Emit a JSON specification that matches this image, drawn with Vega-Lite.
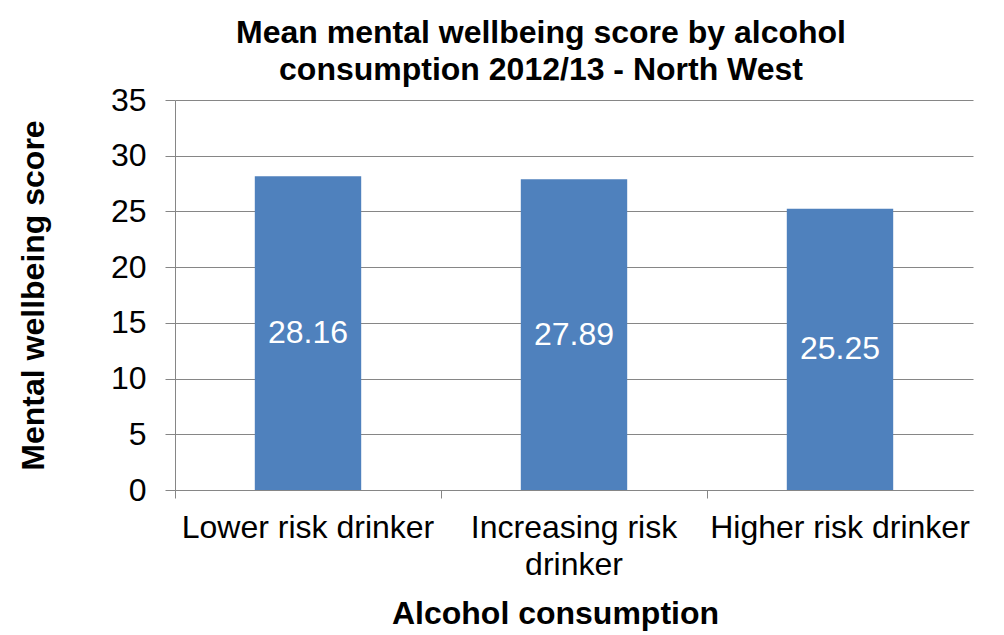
{
  "$schema": "https://vega.github.io/schema/vega-lite/v6.json",
  "width": 798,
  "height": 390,
  "autosize": "none",
  "padding": {"left": 175, "top": 100, "right": 31, "bottom": 145},
  "background": "white",
  "title": {
    "text": ["Mean mental wellbeing score by alcohol", "consumption 2012/13 - North West"],
    "font": "Liberation Sans",
    "fontSize": 32,
    "fontWeight": "bold",
    "color": "black",
    "anchor": "middle",
    "frame": "group",
    "dx": -33,
    "offset": -3,
    "lineHeight": 37
  },
  "data": {
    "values": [
      {"category": "Lower risk drinker", "score": 28.16},
      {"category": "Increasing risk drinker", "score": 27.89},
      {"category": "Higher risk drinker", "score": 25.25}
    ]
  },
  "encoding": {
    "x": {
      "field": "category",
      "type": "nominal",
      "sort": null,
      "scale": {"paddingInner": 0, "paddingOuter": 0},
      "axis": {
        "title": "Alcohol consumption",
        "titleFont": "Liberation Sans",
        "titleFontSize": 32,
        "titleFontWeight": "bold",
        "titleColor": "black",
        "titleX": 380,
        "titleY": 123,
        "titleBaseline": "middle",
        "labelFont": "Liberation Sans",
        "labelFontSize": 32,
        "labelColor": "black",
        "labelAngle": 0,
        "labelPadding": 14,
        "labelLimit": 400,
        "labelExpr": "datum.label == 'Increasing risk drinker' ? ['Increasing risk', 'drinker'] : datum.label",
        "labelLineHeight": 37,
        "bandPosition": 0,
        "tickSize": 8,
        "tickColor": "#868686",
        "domainColor": "#868686",
        "grid": false
      }
    }
  },
  "layer": [
    {
      "mark": {"type": "bar", "color": "#4F81BD", "width": {"band": 0.4}},
      "encoding": {
        "y": {
          "field": "score",
          "type": "quantitative",
          "scale": {"domain": [0, 35]},
          "axis": {
            "title": "Mental wellbeing score",
            "titleFont": "Liberation Sans",
            "titleFontSize": 32,
            "titleFontWeight": "bold",
            "titleColor": "black",
            "titleX": -142,
            "titleY": 195,
            "titleAngle": -90,
            "titleBaseline": "middle",
            "titleAlign": "center",
            "values": [0, 5, 10, 15, 20, 25, 30, 35],
            "labelFont": "Liberation Sans",
            "labelFontSize": 32,
            "labelColor": "black",
            "labelPadding": 19,
            "tickSize": 10,
            "tickColor": "#868686",
            "domainColor": "#868686",
            "gridColor": "#868686",
            "gridWidth": 1
          }
        }
      }
    },
    {
      "transform": [{"calculate": "datum.score / 2", "as": "mid"}],
      "mark": {"type": "text", "color": "white", "font": "Liberation Sans", "fontSize": 32, "baseline": "middle"},
      "encoding": {
        "y": {"field": "mid", "type": "quantitative"},
        "text": {"field": "score", "type": "quantitative", "format": ".2f"}
      }
    }
  ],
  "config": {
    "view": {"stroke": null}
  }
}
